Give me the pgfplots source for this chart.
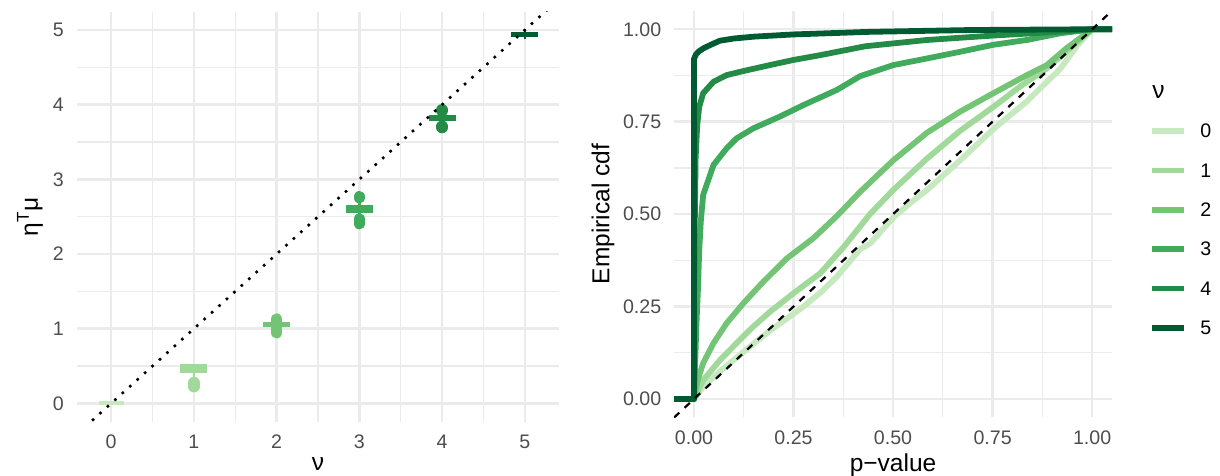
\documentclass[border=0pt]{standalone}
\usepackage{fontspec}
\setmainfont{Liberation Sans}
\usepackage{pgfplots}
\pgfplotsset{compat=1.18}
\definecolor{g0}{HTML}{C7E9C0}
\definecolor{g1}{HTML}{A1D99B}
\definecolor{g2}{HTML}{74C476}
\definecolor{g3}{HTML}{41AB5D}
\definecolor{g4}{HTML}{238B45}
\definecolor{g5}{HTML}{005A32}
\definecolor{gridc}{HTML}{EBEBEB}
\definecolor{tickc}{HTML}{4D4D4D}
\pgfplotsset{
  panel/.style={scale only axis, anchor=south west,
    axis line style={draw=none}, major tick length=0pt, minor tick length=0pt,
    grid=both, major grid style={gridc, line width=1.1pt}, minor grid style={gridc, line width=0.55pt},
    tick label style={font=\fontsize{8.8}{10}\selectfont, text=tickc, inner sep=0pt},
    xticklabel style={anchor=north}, yticklabel style={anchor=east},
    xticklabel shift=5.8pt, yticklabel shift=5.6pt,
    label style={font=\fontsize{11}{13}\selectfont, inner sep=0pt},
    minor tick num=1},
  bar/.style={fill=#1, draw=none},
  blob/.style={#1, line width=5.25pt, line cap=round},
  thin/.style={#1, line width=1.2pt},
  ecdf/.style={#1, line width=2.6pt, line join=round, no marks}
}
\tikzset{legtext/.style={anchor=west, inner sep=0pt, xshift=7.18pt, font=\fontsize{8.8}{10}\selectfont}}
\begin{document}
\begin{tikzpicture}
\path[use as bounding box] (0,0) rectangle (547.78pt,213.72pt);
% ---------------- left panel ----------------
\begin{axis}[panel, at={(34.48pt,24.38pt)}, width=216.6pt, height=184.09pt,
  xmin=-0.415, xmax=5.415, ymin=-0.245, ymax=5.245,
  xtick={0,1,2,3,4,5}, xticklabels={0,1,2,3,4,5},
  ytick={0,1,2,3,4,5}, yticklabels={0,1,2,3,4,5},
  xlabel={ν}, ylabel={η\textsuperscript{T}μ},
  xlabel style={at={(axis description cs:0.5,-0.1032)}, anchor=center},
  ylabel style={at={(axis description cs:-0.097,0.5)}, anchor=center}]
% thin ranges
\addplot[thin=g1] coordinates {(1,0.25) (1,0.41)};
\addplot[thin=g3] coordinates {(3,2.41) (3,2.76)};
\addplot[thin=g4] coordinates {(4,3.70) (4,3.925)};
\addplot[thin=g5] coordinates {(5,4.875) (5,5.008)};
% points (stacked)
\addplot[blob=g1] coordinates {(1,0.225) (1,0.278)};
\addplot[blob=g2] coordinates {(2,0.948) (2,1.127)};
\addplot[blob=g3] coordinates {(3,2.756) (3,2.766)};
\addplot[blob=g3] coordinates {(3,2.408) (3,2.467)};
\addplot[blob=g4] coordinates {(4,3.92) (4,3.93)};
\addplot[blob=g4] coordinates {(4,3.695) (4,3.71)};
% crossbars
\addplot[bar=g0] coordinates {(-0.15,-0.028) (0.15,-0.028) (0.15,0.03) (-0.15,0.03)} -- cycle;
\addplot[bar=g1] coordinates {(0.837,0.41) (1.163,0.41) (1.163,0.522) (0.837,0.522)} -- cycle;
\addplot[bar=g2] coordinates {(1.837,1.026) (2.163,1.026) (2.163,1.093) (1.837,1.093)} -- cycle;
\addplot[bar=g3] coordinates {(2.835,2.553) (3.165,2.553) (3.165,2.656) (2.835,2.656)} -- cycle;
\addplot[bar=g4] coordinates {(3.837,3.785) (4.163,3.785) (4.163,3.861) (3.837,3.861)} -- cycle;
\addplot[bar=g5] coordinates {(4.837,4.91) (5.163,4.91) (5.163,4.977) (4.837,4.977)} -- cycle;
% identity line
\addplot[black, line width=1.15pt, dash pattern=on 1.15pt off 3.35pt] coordinates {(-0.5,-0.5) (5.5,5.5)};
\end{axis}
% ---------------- right panel ----------------
\begin{axis}[panel, at={(302.67pt,26.27pt)}, width=196.62pt, height=182.61pt,
  xmin=-0.05, xmax=1.05, ymin=-0.05, ymax=1.05,
  xtick={0,0.25,0.5,0.75,1}, xticklabels={0.00,0.25,0.50,0.75,1.00},
  ytick={0,0.25,0.5,0.75,1}, yticklabels={0.00,0.25,0.50,0.75,1.00},
  xlabel={p−value}, ylabel={Empirical cdf},
  xlabel style={at={(axis description cs:0.5,-0.1168)}, anchor=center},
  ylabel style={at={(axis description cs:-0.1624,0.5)}, anchor=center}]
\addplot[ecdf=g0] coordinates {(-0.05,0) (0,0) (0.023,0.033) (0.06,0.07) (0.107,0.112) (0.15,0.15) (0.191,0.185) (0.23,0.215) (0.275,0.25) (0.32,0.29) (0.359,0.331) (0.417,0.405) (0.442,0.42) (0.5,0.49) (0.543,0.53) (0.585,0.565) (0.668,0.645) (0.752,0.73) (0.836,0.805) (0.92,0.893) (0.962,0.955) (1,1) (1.05,1)};
\addplot[ecdf=g1] coordinates {(-0.05,0) (0,0) (0.023,0.051) (0.065,0.105) (0.107,0.151) (0.149,0.196) (0.191,0.236) (0.25,0.286) (0.317,0.34) (0.375,0.41) (0.442,0.50) (0.5,0.565) (0.585,0.65) (0.668,0.725) (0.752,0.79) (0.819,0.845) (0.886,0.894) (0.945,0.949) (1,1) (1.05,1)};
\addplot[ecdf=g2] coordinates {(-0.05,0) (0,0) (0.005,0.03) (0.012,0.06) (0.023,0.097) (0.049,0.151) (0.082,0.205) (0.124,0.259) (0.174,0.317) (0.233,0.38) (0.3,0.435) (0.359,0.495) (0.417,0.56) (0.5,0.645) (0.585,0.72) (0.668,0.777) (0.752,0.827) (0.836,0.876) (0.886,0.903) (0.936,0.949) (0.966,0.973) (1,1) (1.05,1)};
\addplot[ecdf=g3] coordinates {(-0.05,0) (0,0) (0.003,0.1) (0.006,0.2) (0.01,0.3) (0.013,0.4) (0.017,0.48) (0.023,0.552) (0.049,0.633) (0.082,0.678) (0.107,0.705) (0.149,0.732) (0.216,0.764) (0.275,0.795) (0.359,0.836) (0.417,0.873) (0.5,0.903) (0.585,0.921) (0.668,0.939) (0.752,0.958) (0.836,0.971) (0.92,0.989) (1,1) (1.05,1)};
\addplot[ecdf=g4] coordinates {(-0.05,0) (0,0) (0.001,0.4) (0.004,0.65) (0.008,0.74) (0.013,0.79) (0.023,0.827) (0.049,0.858) (0.082,0.876) (0.124,0.887) (0.19,0.903) (0.25,0.917) (0.317,0.93) (0.43,0.954) (0.585,0.971) (0.752,0.983) (0.92,0.9935) (1,1) (1.05,1)};
\addplot[ecdf=g5] coordinates {(-0.05,0) (0,0) (0,0.92) (0.005,0.932) (0.012,0.94) (0.023,0.948) (0.04,0.957) (0.065,0.969) (0.1,0.975) (0.15,0.98) (0.25,0.986) (0.44,0.993) (0.7,0.998) (1,1) (1.05,1)};
\addplot[black, line width=1pt, dash pattern=on 3.2pt off 3.2pt] coordinates {(-0.05,-0.05) (1.05,1.05)};
\end{axis}
% ---------------- legend ----------------
\begin{axis}[scale only axis, anchor=south west, at={(517.25pt,66.45pt)}, width=14.37pt, height=88.45pt,
  xmin=0, xmax=1, ymin=0, ymax=5, hide axis, clip=false]
\addplot[g0, line width=2.6pt] coordinates {(0,5) (1,5)};
\addplot[g1, line width=2.6pt] coordinates {(0,4) (1,4)};
\addplot[g2, line width=2.6pt] coordinates {(0,3) (1,3)};
\addplot[g3, line width=2.6pt] coordinates {(0,2) (1,2)};
\addplot[g4, line width=2.6pt] coordinates {(0,1) (1,1)};
\addplot[g5, line width=2.6pt] coordinates {(0,0) (1,0)};
\node[legtext] at (axis cs:1,5) {0};
\node[legtext] at (axis cs:1,4) {1};
\node[legtext] at (axis cs:1,3) {2};
\node[legtext] at (axis cs:1,2) {3};
\node[legtext] at (axis cs:1,1) {4};
\node[legtext] at (axis cs:1,0) {5};
\node[anchor=west, inner sep=0pt, font=\fontsize{11}{13}\selectfont] at (axis cs:0,6) {ν};
\end{axis}
\end{tikzpicture}
\end{document}
